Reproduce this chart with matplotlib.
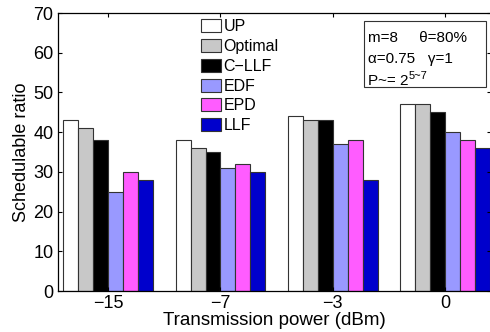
import numpy as np
import matplotlib
matplotlib.use('Agg')
import matplotlib.pyplot as plt
from matplotlib.patches import Rectangle

plt.rcParams['font.family'] = ['Liberation Sans', 'DejaVu Sans']

powers = ['\u221215', '\u22127', '\u22123', '0']
schemes = ['UP', 'Optimal', 'C\u2212LLF', 'EDF', 'EPD', 'LLF']
colors = ['#ffffff', '#c8c8c8', '#000000', '#9999ff', '#ff5cff', '#0000cc']

up = [43, 38, 44, 47]
optimal = [41, 36, 43, 47]
c_llf = [38, 35, 43, 45]
edf = [25, 31, 37, 40]
epd = [30, 32, 38, 38]
llf = [28, 30, 28, 36]
series = [up, optimal, c_llf, edf, epd, llf]

W, H = 490, 332
fig = plt.figure(figsize=(W / 100, H / 100), dpi=100)
ax = fig.add_axes([57.5 / W, (H - 291) / H, (491 - 57.5) / W, (291 - 13) / H])

x = np.arange(1, len(powers) + 1)
bw = 0.8 / len(series)
for i, (vals, c) in enumerate(zip(series, colors)):
    ax.bar(x - 0.4 + bw * (i + 0.5), vals, bw, color=c, edgecolor='#333333',
           linewidth=0.8, label=schemes[i])

ax.set_xlim(0.548, 4.41)
ax.set_ylim(0, 70)
ax.set_xticks(x)
ax.set_xticklabels(powers)
ax.set_yticks(range(0, 71, 10))
ax.tick_params(direction='in', length=3, width=0.8, labelsize=13, pad=3,
               top=True, right=True)
for s in ax.spines.values():
    s.set_linewidth(0.9)
ax.set_xlabel('Transmission power (dBm)', fontsize=13.5, labelpad=0)
ax.set_ylabel('Schedulable ratio', fontsize=13, labelpad=2)

leg = ax.legend(loc='upper left', bbox_to_anchor=(201 / W, 1 - 19 / H),
                bbox_transform=fig.transFigure, frameon=False, fontsize=11.5,
                handlelength=1.25, handleheight=0.88, handletextpad=0.15,
                labelspacing=0.3, borderaxespad=0, borderpad=0)

# parameter box
fig.patches.append(Rectangle((364 / W, 1 - 87 / H), 122 / W, 66 / H,
                             transform=fig.transFigure, facecolor='white',
                             edgecolor='#333333', linewidth=0.8))
fig.text(368 / W, 1 - 42 / H, 'm=8     \u03b8=80%', fontsize=11, va='baseline')
fig.text(368 / W, 1 - 63 / H, '\u03b1=0.75   \u03b3=1', fontsize=11, va='baseline')
p_txt = fig.text(368 / W, 1 - 85 / H, 'P~= 2', fontsize=11, va='baseline')

# superscript placed right after the base text
fig.canvas.draw()
x_end = p_txt.get_window_extent().x1 / W
fig.text(x_end + 0.5 / W, 1 - 79 / H, '5~7', fontsize=8, va='baseline')

fig.savefig('out.png', dpi=100)
